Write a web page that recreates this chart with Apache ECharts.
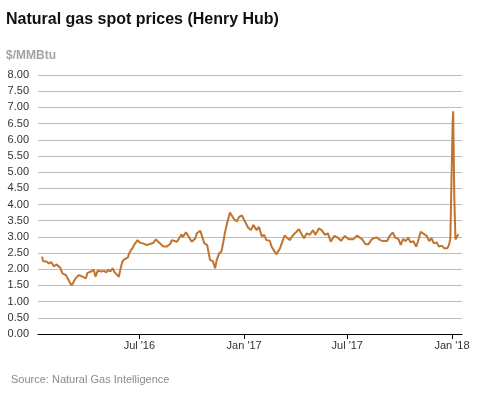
<!DOCTYPE html>
<html>
<head>
<meta charset="utf-8">
<script src="https://cdn.jsdelivr.net/npm/echarts@6/dist/echarts.min.js"></script>
<style>
html,body{margin:0;padding:0;background:#fff;}
#chart{width:477px;height:393px;}
</style>
</head>
<body>
<div id="chart"></div>
<script>
const dates = [
'2016-01-12','2016-01-14','2016-01-17','2016-01-20','2016-01-24','2016-01-28','2016-01-31','2016-02-02','2016-02-06','2016-02-09',
'2016-02-13','2016-02-17','2016-02-23','2016-02-29','2016-03-04','2016-03-08','2016-03-11','2016-03-17','2016-03-23','2016-03-29',
'2016-04-01','2016-04-07','2016-04-12','2016-04-15','2016-04-19','2016-04-25','2016-04-30','2016-05-04','2016-05-07','2016-05-11',
'2016-05-15','2016-05-18','2016-05-21','2016-05-26','2016-05-28','2016-06-01','2016-06-04','2016-06-11','2016-06-13','2016-06-16',
'2016-06-19','2016-06-22','2016-06-25','2016-06-28','2016-07-01','2016-07-07','2016-07-14','2016-07-20','2016-07-25','2016-07-30',
'2016-08-03','2016-08-06','2016-08-12','2016-08-18','2016-08-20','2016-08-24','2016-08-27','2016-08-29','2016-09-05','2016-09-10',
'2016-09-13','2016-09-15','2016-09-21','2016-09-24','2016-10-01','2016-10-03','2016-10-07','2016-10-10','2016-10-16','2016-10-19',
'2016-10-23','2016-10-28','2016-10-30','2016-11-02','2016-11-05','2016-11-07','2016-11-11','2016-11-14','2016-11-18','2016-11-22',
'2016-11-25','2016-11-28','2016-12-02','2016-12-07','2016-12-10','2016-12-13','2016-12-19','2016-12-23','2016-12-28','2016-12-30',
'2017-01-04','2017-01-08','2017-01-13','2017-01-17','2017-01-23','2017-01-27','2017-02-01','2017-02-05','2017-02-09','2017-02-15',
'2017-02-18','2017-02-23','2017-02-27','2017-03-02','2017-03-05','2017-03-08','2017-03-10','2017-03-13','2017-03-18','2017-03-22',
'2017-03-28','2017-04-03','2017-04-07','2017-04-12','2017-04-16','2017-04-21','2017-04-26','2017-05-02','2017-05-06','2017-05-12',
'2017-05-17','2017-05-23','2017-05-28','2017-06-02','2017-06-08','2017-06-14','2017-06-20','2017-06-27','2017-07-03','2017-07-06',
'2017-07-12','2017-07-18','2017-07-21','2017-07-27','2017-08-02','2017-08-07','2017-08-12','2017-08-16','2017-08-22','2017-08-28',
'2017-09-02','2017-09-09','2017-09-14','2017-09-19','2017-09-23','2017-09-29','2017-10-03','2017-10-07','2017-10-12','2017-10-16',
'2017-10-20','2017-10-25','2017-10-30','2017-11-02','2017-11-07','2017-11-11','2017-11-17','2017-11-22','2017-11-26','2017-11-30',
'2017-12-05','2017-12-09','2017-12-14','2017-12-18','2017-12-21','2017-12-24','2017-12-27','2017-12-29','2018-01-02','2018-01-03',
'2018-01-05','2018-01-07','2018-01-09','2018-01-12'
];
const prices = [
2.39,2.25,2.21,2.24,2.18,2.22,2.15,2.08,2.15,2.21,
2.05,1.87,1.82,1.62,1.50,1.62,1.72,1.82,1.77,1.72,
1.89,1.93,1.98,1.77,1.96,1.93,1.95,1.90,1.98,1.93,
2.03,1.92,1.87,1.77,1.95,2.23,2.30,2.37,2.49,2.58,
2.65,2.76,2.80,2.90,2.83,2.80,2.75,2.78,2.81,2.92,
2.85,2.80,2.70,2.70,2.66,2.78,2.90,2.96,2.85,2.99,
3.08,2.99,3.14,3.05,2.85,2.81,2.95,3.11,3.19,3.17,
2.80,2.75,2.70,2.29,2.35,2.25,2.03,2.30,2.49,2.54,
2.80,3.11,3.42,3.75,3.70,3.58,3.47,3.62,3.66,3.60,
3.42,3.28,3.21,3.37,3.21,3.31,3.01,3.06,2.90,2.88,
2.70,2.56,2.46,2.56,2.65,2.80,2.90,3.04,2.96,2.90,
3.06,3.16,3.24,3.08,2.96,3.11,3.06,3.21,3.06,3.26,
3.21,3.06,3.11,2.85,3.03,2.98,2.88,3.03,2.93,2.90,
2.93,3.04,3.08,2.93,2.77,2.77,2.90,2.96,2.98,2.90,
2.87,2.87,3.04,3.14,2.98,2.93,2.75,2.93,2.87,2.98,
2.83,2.87,2.70,2.85,3.16,3.11,3.04,2.87,2.96,2.80,
2.83,2.70,2.73,2.65,2.70,2.65,2.77,2.95,6.50,6.88,
4.20,2.92,2.88,3.08
];
const xTickDates = ['2016-07-01','2017-01-01','2017-07-01','2018-01-01'];
const xTickLabels = ["Jul '16","Jan '17","Jul '17","Jan '18"];
const xRange = ['2016-01-05','2018-01-18T12:00:00'];
const yRange = [0, 8];
const yStep = 0.5;

const FONT = 'Arial, "Liberation Sans", sans-serif';
const ts = s => new Date(s.length === 10 ? s + 'T00:00:00' : s).getTime();
const tickTs = xTickDates.map(ts);
const labelMap = {};
tickTs.forEach((t, i) => { labelMap[t] = xTickLabels[i]; });

const chart = echarts.init(document.getElementById('chart'), null, {renderer: 'canvas'});
chart.setOption({
  animation: false,
  backgroundColor: '#fff',
  title: [
    {text: 'Natural gas spot prices (Henry Hub)', left: 1, top: 7,
     textStyle: {fontFamily: FONT, fontSize: 16, fontWeight: 'bold', color: '#111'}},
    {text: '$/MMBtu', left: 1, top: 45,
     textStyle: {fontFamily: FONT, fontSize: 12, fontWeight: 'bold', color: '#a3a3a3'}},
    {text: 'Source: Natural Gas Intelligence', left: 6, top: 369,
     textStyle: {fontFamily: FONT, fontSize: 11, fontWeight: 'normal', color: '#8a8a8a'}}
  ],
  grid: {left: 38, right: 15, top: 75, bottom: 59, containLabel: false},
  xAxis: {
    type: 'value',
    min: ts(xRange[0]),
    max: ts(xRange[1]),
    axisLine: {show: true, onZero: false, lineStyle: {color: '#000', width: 1}},
    axisTick: {show: true, customValues: tickTs, length: 5, lineStyle: {color: '#000'}},
    axisLabel: {
      customValues: tickTs,
      margin: 6,
      fontFamily: FONT, fontSize: 11, color: '#333',
      formatter: function (v) { return labelMap[v] !== undefined ? labelMap[v] : ''; }
    },
    splitLine: {show: false}
  },
  yAxis: {
    type: 'value',
    min: yRange[0], max: yRange[1], interval: yStep,
    axisLine: {show: false},
    axisTick: {show: false},
    axisLabel: {margin: 9, fontFamily: FONT, fontSize: 11, color: '#333',
      formatter: function (v) { return v.toFixed(2); }},
    splitLine: {show: true, lineStyle: {color: '#bdbdbd', width: 1}}
  },
  series: [{
    type: 'line',
    data: dates.map((d, i) => [ts(d), prices[i]]),
    showSymbol: false,
    symbol: 'none',
    lineStyle: {color: '#c1742f', width: 2},
    z: 3
  }]
});
</script>
</body>
</html>
